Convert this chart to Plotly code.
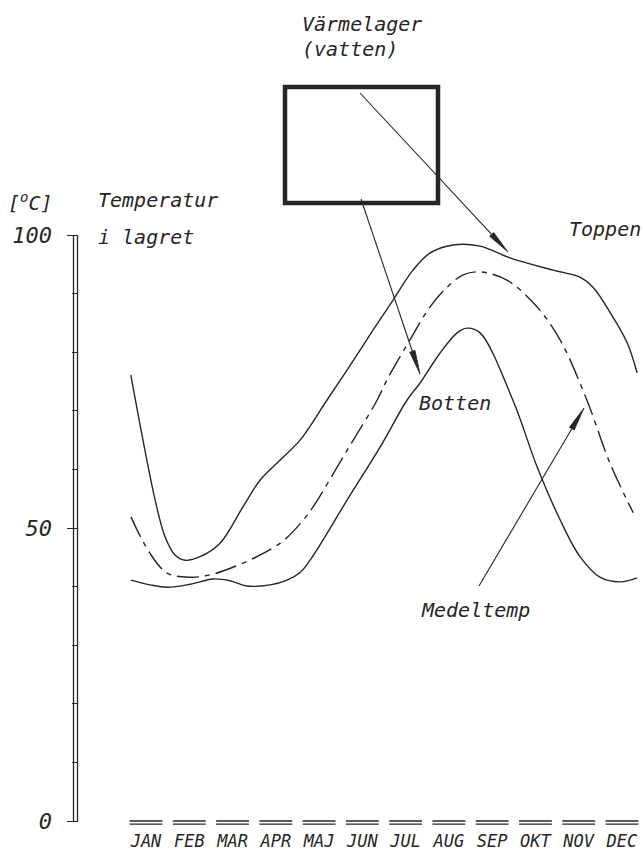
import numpy as np
import plotly.graph_objects as go

# ---- data -------------------------------------------------------------
months = ["JAN", "FEB", "MAR", "APR", "MAJ", "JUN",
          "JUL", "AUG", "SEP", "OKT", "NOV", "DEC"]

# Temperature at the top of the store ("Toppen")
top_x = [0.65, 0.93, 1.21, 1.44, 1.67, 1.90, 2.25, 2.71, 3.24, 3.64, 4.10, 4.56,
         5.18, 5.65, 6.25, 6.71, 7.17, 7.56, 8.10, 8.72, 9.41, 10.41, 11.03,
         11.33, 11.79, 12.12, 12.35]
top_y = [76.1, 65.0, 54.8, 48.5, 45.4, 44.5, 45.1, 47.4, 53.6, 58.2, 61.6, 65.0,
         71.8, 77.0, 83.8, 88.9, 94.0, 96.9, 98.3, 98.1, 96.1, 94.0, 92.8,
         91.1, 86.0, 81.6, 76.5]

# Mean temperature ("Medeltemp")
mid_x = [0.65, 1.09, 1.49, 2.02, 2.48, 3.01, 3.64, 4.17, 4.56, 4.86, 5.65, 6.34,
         6.57, 7.10, 7.56, 7.96, 8.33, 8.72, 9.34, 10.04, 10.57, 11.19, 11.72, 12.26]
mid_y = [51.9, 45.7, 42.3, 41.6, 42.0, 43.3, 45.4, 47.8, 50.7, 53.6, 63.3, 71.8,
         75.3, 82.1, 87.7, 91.1, 93.2, 93.7, 92.3, 87.7, 82.1, 71.8, 61.1, 52.6]

# Temperature at the bottom of the store ("Botten")
bot_x = [0.65, 1.09, 1.49, 2.02, 2.55, 2.94, 3.33, 3.87, 4.26, 4.56, 4.80, 5.65,
         6.41, 7.03, 7.33, 7.80, 8.19, 8.42, 8.72, 9.48, 10.04, 10.57, 11.03,
         11.49, 11.96, 12.35]
bot_y = [41.1, 40.3, 39.9, 40.4, 41.3, 41.0, 40.1, 40.3, 41.1, 42.4, 44.6, 54.8,
         63.8, 71.8, 74.7, 79.9, 83.3, 84.1, 83.3, 71.8, 60.4, 51.4, 45.1,
         41.6, 40.8, 41.5]

y_ticks = [0, 50, 100]
y_minor = [10, 20, 30, 40, 60, 70, 80, 90]

# ---- canvas / scale ---------------------------------------------------
W, H = 643, 852
JAN_PX, MONTH_PX = 146.0, 43.27     # pixel centre of JAN, pixels per month
ZERO_PY, DEG_PX = 821.0, 5.86       # pixel row of 0 degC, pixels per degree
X_RANGE = [1 - JAN_PX / MONTH_PX, 1 + (W - JAN_PX) / MONTH_PX]
Y_RANGE = [(ZERO_PY - H) / DEG_PX, ZERO_PY / DEG_PX]
AXIS_PX = 77.5

INK = "#262626"
FONT = "DejaVu Sans Mono"


def to_px(x, y):
    return (JAN_PX + (x - 1) * MONTH_PX, ZERO_PY - y * DEG_PX)


def to_data(px, py):
    return (1 + (px - JAN_PX) / MONTH_PX, (ZERO_PY - py) / DEG_PX)


fig = go.Figure()

curve = dict(color=INK, width=1.4, shape="spline", smoothing=1.0)
fig.add_trace(go.Scatter(x=top_x, y=top_y, mode="lines", line=curve, hoverinfo="skip"))
fig.add_trace(go.Scatter(x=mid_x, y=mid_y, mode="lines",
                         line=dict(curve, dash="22px,6px,5px,6px"), hoverinfo="skip"))
fig.add_trace(go.Scatter(x=bot_x, y=bot_y, mode="lines", line=curve, hoverinfo="skip"))

shapes = []

# double-ruled temperature axis
for xp in (AXIS_PX - 4, AXIS_PX):
    shapes.append(dict(type="line", xref="paper", yref="y",
                       x0=xp / W, x1=xp / W, y0=0, y1=100,
                       line=dict(color=INK, width=1.3)))

# double bars above each month label
for i in range(1, len(months) + 1):
    for yv in (0.0, -0.55):
        shapes.append(dict(type="line", xref="x", yref="y",
                           x0=i - 0.38, x1=i + 0.38, y0=yv, y1=yv,
                           line=dict(color=INK, width=1.3)))

# storage tank symbol
bx0, by0 = to_data(285, 87)
bx1, by1 = to_data(438, 203)
shapes.append(dict(type="rect", xref="x", yref="y", x0=bx0, x1=bx1, y0=by1, y1=by0,
                   line=dict(color=INK, width=4.5)))


def arrow(start, tip, head_len=24, half_w=2.8):
    sx, sy = to_px(*start)
    tx, ty = to_px(*tip)
    d = np.array([tx - sx, ty - sy])
    d /= np.linalg.norm(d)
    n = np.array([-d[1], d[0]])
    base = np.array([tx, ty]) - head_len * d
    c1 = base + half_w * n
    c2 = base - half_w * n
    pts = [to_data(*c1), to_data(tx, ty), to_data(*c2)]
    path = "M {} {} L {} {} L {} {} Z".format(pts[0][0], pts[0][1], pts[1][0], pts[1][1],
                                             pts[2][0], pts[2][1])
    bx, by = to_data(*base)
    return [
        dict(type="line", xref="x", yref="y", x0=start[0], y0=start[1], x1=bx, y1=by,
             line=dict(color=INK, width=1.1)),
        dict(type="path", xref="x", yref="y", path=path, fillcolor=INK,
             line=dict(color=INK, width=0.8)),
    ]


shapes += arrow(to_data(360, 93), to_data(508, 252))
shapes += arrow(to_data(361, 199), to_data(420, 374))
shapes += arrow(to_data(479, 586), to_data(584, 408))


def label(text, px, py, size=20):
    return dict(text=text, xref="paper", yref="paper", x=px / W, y=1 - py / H,
                xanchor="left", yanchor="middle", showarrow=False,
                font=dict(family=FONT, size=size, color=INK, style="italic"))


annotations = [
    label("Värmelager", 300, 24),
    label("(vatten)", 300, 49),
    label("[<sup>o</sup>C]", 6, 202),
    label("Temperatur", 96, 200),
    label("i lagret", 96, 237),
    label("Toppen", 567, 229),
    label("Botten", 417, 403),
    label("Medeltemp", 419, 610),
]

fig.update_layout(
    width=W, height=H,
    margin=dict(l=0, r=0, t=0, b=0),
    paper_bgcolor="white", plot_bgcolor="white",
    showlegend=False,
    shapes=shapes,
    annotations=annotations,
    xaxis=dict(range=X_RANGE, domain=[0, 1], anchor="free", position=1 - 829 / H,
               tickmode="array", tickvals=list(range(1, 13)), ticktext=months,
               ticks="", showline=False, showgrid=False, zeroline=False,
               tickfont=dict(family=FONT, size=17, color=INK, style="italic"),
               fixedrange=True),
    yaxis=dict(range=Y_RANGE, domain=[0, 1], anchor="free", position=AXIS_PX / W,
               tickmode="array", tickvals=y_ticks, ticktext=[str(v) for v in y_ticks],
               ticks="outside", ticklen=11, tickwidth=1.3, tickcolor=INK,
               ticklabelstandoff=10,
               minor=dict(tickvals=y_minor, ticks="outside", ticklen=6,
                          tickwidth=1.3, tickcolor=INK),
               showline=False, showgrid=False, zeroline=False,
               tickfont=dict(family=FONT, size=22, color=INK, style="italic"),
               fixedrange=True),
)

fig.write_html("out.html")
